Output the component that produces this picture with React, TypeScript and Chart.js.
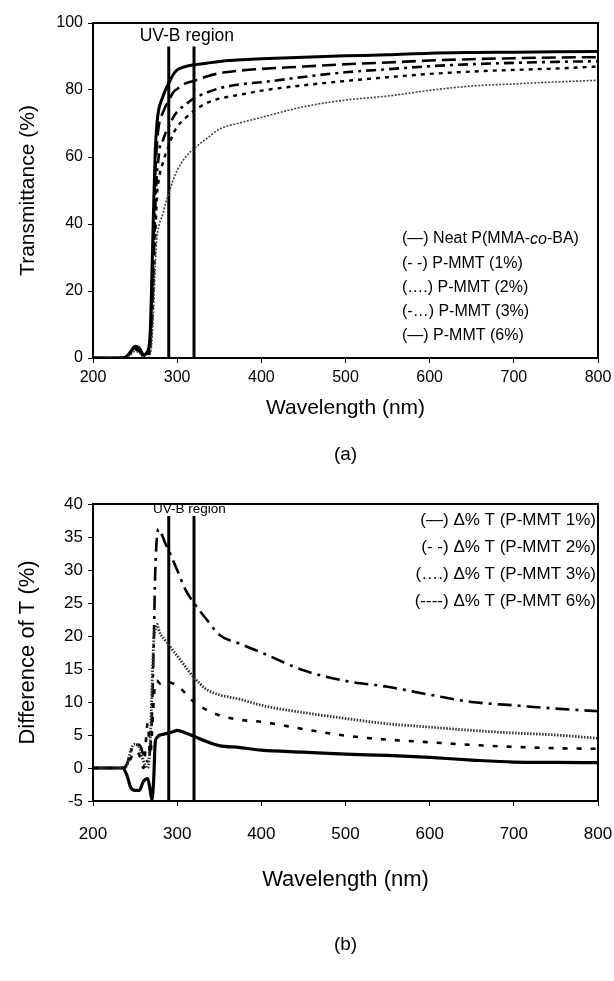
import React, { useEffect, useRef } from "react";
import { Chart, registerables } from "chart.js";

Chart.register(...registerables);

const FONT = "'Liberation Sans', Arial, sans-serif";

// ---------- data ----------
const WAVELENGTHS = [200, 235, 240, 245, 250, 255, 260, 265, 268, 270, 272, 274, 276, 278, 280, 283, 286, 290, 295, 300, 310, 320, 335, 350, 375, 400, 450, 500, 550, 600, 650, 700, 750, 800];

// (a) transmittance (%)
const T_NEAT = [0, 0, 0.5, 2, 3.5, 3, 1, 2, 8, 25, 45, 62, 70, 74, 76, 78, 80, 82, 84.5, 86, 87, 87.5, 88, 88.5, 89, 89.3, 89.8, 90.2, 90.5, 91, 91.2, 91.3, 91.4, 91.5];
const T_PMMT1 = [0, 0, 0.5, 2, 3, 2.5, 1, 1.5, 6, 20, 38, 55, 64, 69, 71.5, 73.2, 75, 76.8, 79.2, 80.3, 82, 82.7, 84, 85, 85.8, 86.3, 87, 87.7, 88.2, 88.8, 89.2, 89.5, 89.7, 89.8];
const T_PMMT2 = [0, 0, 0.3, 1.5, 2.5, 2, 0.5, 1, 4, 12, 28, 45, 55, 60, 64, 65, 67, 69, 71.7, 73.5, 75.7, 77.5, 79.2, 80.5, 81.7, 82.3, 83.9, 85.3, 86.2, 87.1, 87.7, 88.1, 88.4, 88.6];
const T_PMMT3 = [0, 0, 0.3, 1.5, 2.5, 2, 0.5, 0.5, 3, 10, 22, 36, 48.5, 53, 55.7, 58.2, 60.7, 63.3, 66.7, 69, 71.7, 73.8, 76.1, 77.4, 78.6, 79.8, 81.4, 82.7, 83.8, 84.8, 85.5, 86, 86.4, 87];
const T_PMMT6 = [0, 0, 0.2, 1, 2, 1.5, 0.3, 0, 1, 5, 15, 28, 36, 39, 41, 43, 46, 49, 53, 56, 60, 62.5, 65.5, 68.3, 70.2, 71.8, 75, 77, 78.2, 79.9, 81.2, 81.8, 82.4, 82.9];

// (b) difference of T (%)
const D_SOLID = [0, 0, -1, -3, -3.4, -3.4, -2, -1.6, -3.4, -4.8, -2, 4, 4.6, 4.9, 5, 5.1, 5.2, 5.3, 5.5, 5.7, 5.3, 4.8, 4, 3.4, 3.1, 2.7, 2.4, 2.1, 1.9, 1.6, 1.2, 0.9, 0.85, 0.8];
const D_LONGDASH = [0, 0, 0.5, 2.5, 3.5, 3.5, 2, 1, 3, 8, 18, 30, 35, 36.2, 35.8, 35, 34, 33, 31.5, 30, 27, 25, 22.5, 20.2, 18.8, 17.5, 14.8, 13.2, 12.3, 11.1, 10, 9.5, 9, 8.6];
const D_DOTTED = [0, 0, 0.3, 2.8, 3.6, 3.2, 1, 0, 4, 12, 19, 21, 21.8, 21, 20.3, 19.8, 19.3, 18.7, 17.8, 17, 15.3, 13.7, 11.9, 11.1, 10.4, 9.5, 8.4, 7.5, 6.7, 6.2, 5.7, 5.3, 5.0, 4.5];
const D_SHORTDASH = [0, 0, 0, 1.5, 2.5, 2, 0, 6.8, 2, 5, 10, 13, 13.2, 13, 12.8, 13, 13, 13, 12.8, 12.5, 11.3, 10, 8.8, 8, 7.3, 7, 5.9, 4.9, 4.3, 3.9, 3.5, 3.2, 3.0, 2.9];

const UVB_BOUNDS = [290, 320];
const UVB_TOP_A = 93;
const UVB_TOP_B = 38.2;

const LEGEND_A = [
  "(—) Neat P(MMA-_co_-BA)",
  "(- -) P-MMT (1%)",
  "(….) P-MMT (2%)",
  "(-…) P-MMT (3%)",
  "(—) P-MMT (6%)",
];
const LEGEND_A_Y = [35.5, 28.3, 21.1, 13.9, 6.7];

const LEGEND_B = [
  "(—) Δ% T (P-MMT 1%)",
  "(- -) Δ% T (P-MMT 2%)",
  "(….) Δ% T (P-MMT 3%)",
  "(----) Δ% T (P-MMT 6%)",
];
const LEGEND_B_Y = [37.6, 33.5, 29.4, 25.3];

// ---------- helpers ----------
const pts = (vals: number[]) => WAVELENGTHS.map((x, i) => ({ x, y: vals[i] }));
const vline = (x: number, y0: number, y1: number) => [{ x, y: y0 }, { x, y: y1 }];

const framePlugin = {
  id: "frameText",
  afterDatasetsDraw(chart: any, _args: any, opts: any) {
    const { ctx, chartArea: a } = chart;
    const xs = chart.scales.x;
    const ys = chart.scales.y;
    ctx.save();
    ctx.strokeStyle = "#000";
    ctx.lineWidth = 2;
    ctx.strokeRect(a.left, a.top, a.right - a.left, a.bottom - a.top);

    ctx.fillStyle = "#000";
    // UV-B label
    ctx.font = `${opts.uvbSize}px ${FONT}`;
    ctx.textAlign = "center";
    ctx.textBaseline = "middle";
    ctx.fillText("UV-B region", xs.getPixelForValue(opts.uvbX), ys.getPixelForValue(opts.uvbY));

    // legend
    ctx.textBaseline = "middle";
    opts.legend.forEach((line: string, i: number) => {
      const y = ys.getPixelForValue(opts.legendY[i]);
      const parts = line.split("_");
      const fonts = parts.map((_p, k) => (k % 2 === 1 ? `italic ${opts.legendSize}px ${FONT}` : `${opts.legendSize}px ${FONT}`));
      let total = 0;
      parts.forEach((p, k) => {
        ctx.font = fonts[k];
        total += ctx.measureText(p).width;
      });
      let x = opts.legendAlign === "right" ? opts.legendX - total : opts.legendX;
      ctx.textAlign = "left";
      parts.forEach((p, k) => {
        ctx.font = fonts[k];
        ctx.fillText(p, x, y);
        x += ctx.measureText(p).width;
      });
    });

    // axis titles
    ctx.font = `${opts.titleSize}px ${FONT}`;
    ctx.textAlign = "center";
    ctx.fillText("Wavelength (nm)", (a.left + a.right) / 2, a.bottom + opts.xTitleOffset);
    ctx.save();
    ctx.translate(opts.yTitleX, (a.top + a.bottom) / 2);
    ctx.rotate(-Math.PI / 2);
    ctx.fillText(opts.yTitle, 0, 0);
    ctx.restore();

    ctx.font = `19px ${FONT}`;
    ctx.fillText(opts.label, (a.left + a.right) / 2, a.bottom + opts.labelOffset);
    ctx.restore();
  },
};

function makeOptions(ymin: number, ymax: number, step: number, height: number, plotBottom: number, plotTop: number, tickSize: number, xPad: number, textOpts: any) {
  return {
    responsive: false,
    animation: false as const,
    layout: { padding: { top: plotTop, right: 16, left: 0, bottom: 0 } },
    plugins: {
      legend: { display: false },
      tooltip: { enabled: false },
      frameText: textOpts,
    },
    elements: { point: { radius: 0 }, line: { cubicInterpolationMode: "monotone" as const } },
    scales: {
      x: {
        type: "linear" as const,
        min: 200,
        max: 800,
        afterFit: (s: any) => {
          s.height = height - plotBottom;
          s.paddingLeft = 0;
          s.paddingRight = 0;
        },
        ticks: { stepSize: 100, color: "#000", font: { size: tickSize, family: FONT }, padding: xPad, maxRotation: 0 },
        grid: { display: true, drawOnChartArea: false, drawTicks: true, tickLength: 5, color: "#000", lineWidth: 1 },
        border: { display: true, color: "#000", width: 2 },
      },
      y: {
        type: "linear" as const,
        min: ymin,
        max: ymax,
        afterFit: (s: any) => {
          s.width = 93;
          s.paddingTop = 0;
          s.paddingBottom = 0;
        },
        ticks: { stepSize: step, color: "#000", font: { size: tickSize, family: FONT }, padding: 5 },
        grid: { display: true, drawOnChartArea: false, drawTicks: true, tickLength: 5, color: "#000", lineWidth: 1 },
        border: { display: true, color: "#000", width: 2 },
      },
    },
  };
}

function line(data: any, width: number, dash: number[], color = "#000") {
  return { data, borderColor: color, borderWidth: width, borderDash: dash, pointRadius: 0, fill: false };
}

export default function App() {
  const refA = useRef<HTMLCanvasElement>(null);
  const refB = useRef<HTMLCanvasElement>(null);

  useEffect(() => {
    const HA = 490;
    const chartA = new Chart(refA.current as HTMLCanvasElement, {
      type: "line",
      data: {
        datasets: [
          line(pts(T_PMMT6), 1.6, [2, 1.5], "#444"),
          line(pts(T_PMMT3), 2.4, [4, 5]),
          line(pts(T_PMMT2), 2.6, [10, 5, 3, 5]),
          line(pts(T_PMMT1), 2.6, [14, 6]),
          line(pts(T_NEAT), 3, []),
          { ...line(vline(UVB_BOUNDS[0], 0, UVB_TOP_A), 3, []), cubicInterpolationMode: "default", tension: 0 },
          { ...line(vline(UVB_BOUNDS[1], 0, UVB_TOP_A), 3, []), cubicInterpolationMode: "default", tension: 0 },
        ] as any,
      },
      options: makeOptions(0, 100, 20, HA, 358, 23, 16, 5, {
        uvbSize: 17.5,
        uvbX: 311.5,
        uvbY: 96.2,
        legend: LEGEND_A,
        legendY: LEGEND_A_Y,
        legendAlign: "left",
        legendX: 402,
        legendSize: 16,
        titleSize: 21,
        xTitleOffset: 50,
        yTitle: "Transmittance (%)",
        yTitleX: 28,
        label: "(a)",
        labelOffset: 97,
      }) as any,
      plugins: [framePlugin],
    });

    const HB = 491;
    const chartB = new Chart(refB.current as HTMLCanvasElement, {
      type: "line",
      data: {
        datasets: [
          line(pts(D_SHORTDASH), 2.6, [5, 9]),
          line(pts(D_DOTTED), 2.8, [1.5, 1.5], "#333"),
          line(pts(D_LONGDASH), 2.6, [14, 6, 3, 6]),
          line(pts(D_SOLID), 3.2, []),
          { ...line(vline(UVB_BOUNDS[0], -5, UVB_TOP_B), 3, []), cubicInterpolationMode: "default", tension: 0 },
          { ...line(vline(UVB_BOUNDS[1], -5, UVB_TOP_B), 3, []), cubicInterpolationMode: "default", tension: 0 },
        ] as any,
      },
      options: makeOptions(-5, 40, 5, HB, 311, 14, 17, 18, {
        uvbSize: 13.5,
        uvbX: 314.6,
        uvbY: 39.2,
        legend: LEGEND_B,
        legendY: LEGEND_B_Y,
        legendAlign: "right",
        legendX: 596,
        legendSize: 17,
        titleSize: 22,
        xTitleOffset: 79,
        yTitle: "Difference of T (%)",
        yTitleX: 28,
        label: "(b)",
        labelOffset: 144,
      }) as any,
      plugins: [framePlugin],
    });

    return () => {
      chartA.destroy();
      chartB.destroy();
    };
  }, []);

  return (
    <div style={{ position: "absolute", left: 0, top: 0, width: 614, height: 981, background: "#fff" }}>
      <canvas ref={refA} width={614} height={490} style={{ position: "absolute", left: 0, top: 0, width: 614, height: 490 }} />
      <canvas ref={refB} width={614} height={491} style={{ position: "absolute", left: 0, top: 490, width: 614, height: 491 }} />
    </div>
  );
}
